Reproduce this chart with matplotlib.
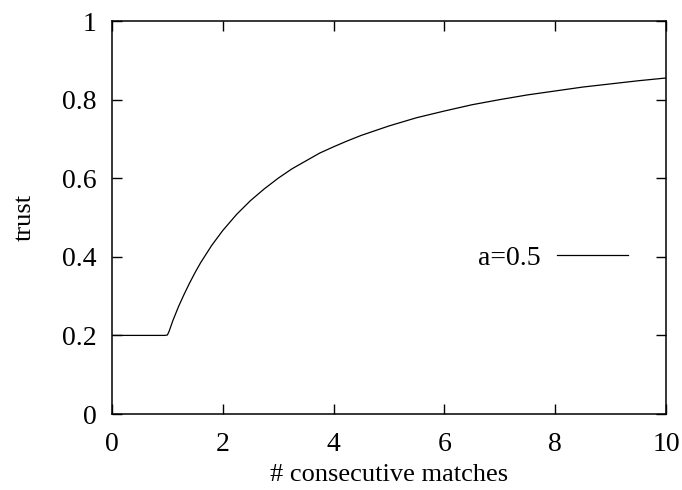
import matplotlib
matplotlib.use("Agg")
import matplotlib.pyplot as plt

plt.rcParams['font.family'] = ['Liberation Serif', 'DejaVu Serif']

# trust after n consecutive matches (a = 0.5)
matches = [0, 0.5, 0.95, 1.0, 1.03, 1.1, 1.2, 1.3, 1.4, 1.5, 1.6, 1.8, 2,
           2.25, 2.5, 2.75, 3, 3.25, 3.5, 3.75, 4, 4.25, 4.5, 5, 5.5, 6,
           6.5, 7, 7.5, 8, 8.5, 9, 9.5, 10]
trust = [0.2, 0.2, 0.2, 0.201, 0.21, 0.238, 0.273, 0.304, 0.333, 0.36,
         0.385, 0.429, 0.467, 0.508, 0.543, 0.573, 0.6, 0.624, 0.644, 0.664,
         0.68, 0.695, 0.709, 0.733, 0.754, 0.771, 0.787, 0.8, 0.812, 0.822,
         0.832, 0.84, 0.848, 0.855]
x_ticks = [0, 2, 4, 6, 8, 10]
y_ticks = [0, 0.2, 0.4, 0.6, 0.8, 1]
y_labels = ['0', '0.2', '0.4', '0.6', '0.8', '1']

fig = plt.figure(figsize=(6.82, 4.9), dpi=100)
ax = fig.add_axes([0.1642, 0.1551, 0.8123, 0.8020])

ax.plot(matches, trust, color='black', lw=0.9, label='a=0.5')

ax.set_xlim(0, 10)
ax.set_ylim(0, 1)
ax.set_xticks(x_ticks)
ax.set_xticklabels([str(t) for t in x_ticks])
ax.set_yticks(y_ticks)
ax.set_yticklabels(y_labels)
ax.tick_params(direction='in', top=True, right=True, length=7, width=1,
               labelsize=20)
ax.tick_params(axis='x', pad=13)
ax.tick_params(axis='y', pad=11)
for s in ax.spines.values():
    s.set_linewidth(1.1)

ax.set_xlabel('# consecutive matches', fontsize=19, labelpad=5)
ax.set_ylabel('trust', fontsize=19, labelpad=19)

ax.legend(loc='center right', bbox_to_anchor=(0.931, 0.397), frameon=False,
          markerfirst=False, fontsize=20, handlelength=2.55,
          handletextpad=0.6, borderpad=0, borderaxespad=0)

fig.savefig('out.png', dpi=100)
